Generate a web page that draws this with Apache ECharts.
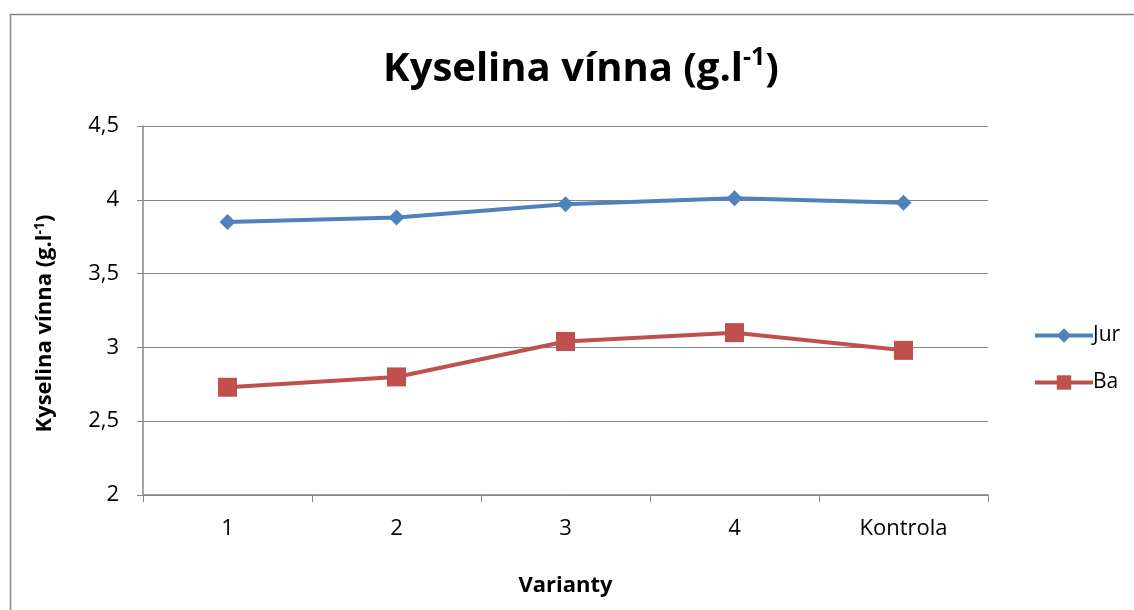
<!DOCTYPE html>
<html>
<head>
<meta charset="utf-8">
<script src="https://cdn.jsdelivr.net/npm/echarts@6/dist/echarts.min.js"></script>
<style>
  html, body { margin: 0; padding: 0; background: #fff; }
  #chart { width: 1134px; height: 610px; }
</style>
</head>
<body>
<div id="chart"></div>
<script>
// Tartaric acid content per variant
const categories = ['1', '2', '3', '4', 'Kontrola'];
const jurValues = [3.85, 3.88, 3.97, 4.01, 3.98];
const baValues = [2.73, 2.80, 3.04, 3.10, 2.98];
const yTicks = [2, 2.5, 3, 3.5, 4, 4.5];

const FONT = '"Open Sans", "Noto Sans", sans-serif';
const BLUE = '#4F81BD';
const RED = '#C0504D';
const chart = echarts.init(document.getElementById('chart'));

chart.setOption({
  animation: false,
  backgroundColor: '#ffffff',
  graphic: [{
    type: 'rect',
    shape: { x: 10.5, y: 14.5, width: 1200, height: 700 },
    style: { fill: 'none', stroke: '#878787', lineWidth: 1.5 },
    silent: true
  }],
  title: {
    text: '{t|Kyselina vínna (g.l}{s|-1}{t|)}',
    left: 576,
    textAlign: 'center',
    top: 40,
    textStyle: {
      rich: {
        t: { fontFamily: FONT, fontWeight: 'bold', fontSize: 40, color: '#000', lineHeight: 50 },
        s: { fontFamily: FONT, fontWeight: 'bold', fontSize: 25, color: '#000', verticalAlign: 'top', padding: [0, 0, 20, 0] }
      }
    }
  },
  legend: {
    orient: 'vertical',
    left: 1028,
    top: 320,
    itemGap: 26,
    itemWidth: 58,
    itemHeight: 18,
    textStyle: { fontFamily: FONT, fontSize: 21, color: '#000', padding: [0, 0, 0, -5] },
    data: [
      { name: 'Jur', lineStyle: { width: 4, color: BLUE } },
      { name: 'Ba', lineStyle: { width: 4, color: RED } }
    ]
  },
  grid: { left: 143, right: 146, top: 126, bottom: 115 },
  xAxis: {
    type: 'category',
    data: categories,
    boundaryGap: true,
    name: 'Varianty',
    nameLocation: 'middle',
    nameGap: 80,
    nameTextStyle: { fontFamily: FONT, fontWeight: 'bold', fontSize: 22, color: '#000' },
    axisLine: { lineStyle: { color: '#878787', width: 1.5 } },
    axisTick: { show: true, length: 7, lineStyle: { color: '#878787' } },
    axisLabel: { fontFamily: FONT, fontSize: 22, color: '#000', margin: 23 }
  },
  yAxis: {
    type: 'value',
    min: yTicks[0],
    max: yTicks[yTicks.length - 1],
    interval: 0.5,
    name: '{t|Kyselina vínna (g.l}{s|-1}{t|)}',
    nameLocation: 'middle',
    nameGap: 86,
    nameRotate: 90,
    nameTextStyle: {
      padding: [0, 26, 0, 0],
      rich: {
        t: { fontFamily: FONT, fontWeight: 'bold', fontSize: 22, color: '#000' },
        s: { fontFamily: FONT, fontWeight: 'bold', fontSize: 14, color: '#000', verticalAlign: 'top', padding: [0, 0, 10, 0] }
      }
    },
    axisLine: { show: true, lineStyle: { color: '#878787', width: 1.5 } },
    axisTick: { show: true, length: 6, lineStyle: { color: '#878787' } },
    splitLine: { show: true, lineStyle: { color: '#878787', width: 1 } },
    axisLabel: {
      fontFamily: FONT, fontSize: 22, color: '#000', margin: 24,
      formatter: v => String(v).replace('.', ',')
    }
  },
  series: [
    {
      name: 'Jur',
      type: 'line',
      data: jurValues,
      symbol: 'diamond',
      symbolSize: 16,
      color: BLUE,
      lineStyle: { width: 4, color: BLUE },
      itemStyle: { color: BLUE }
    },
    {
      name: 'Ba',
      type: 'line',
      data: baValues,
      symbol: 'rect',
      symbolSize: 19,
      color: RED,
      lineStyle: { width: 4, color: RED },
      itemStyle: { color: RED }
    }
  ]
});
</script>
</body>
</html>
